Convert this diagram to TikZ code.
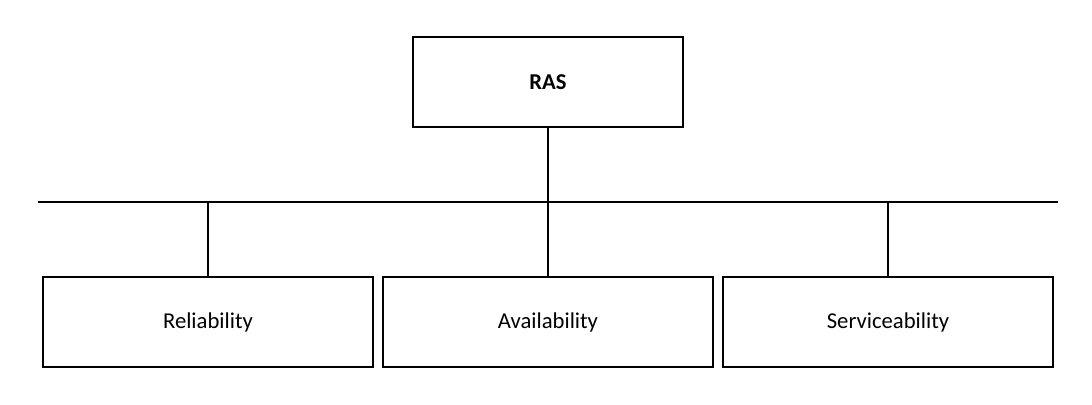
\documentclass[tikz,border=0pt]{standalone}
\usepackage{fontspec}
\setmainfont{Carlito}
\begin{document}
\begin{tikzpicture}[x=0.75pt,y=-0.75pt,line width=1.5pt,
  box/.style={draw,minimum width=202.5pt,minimum height=67.5pt,inner sep=0pt,font=\fontsize{17}{20}\selectfont},
  sbox/.style={box,minimum width=247.5pt}]
\useasboundingbox (0,0) rectangle (1092,404);
\node[box,font=\fontsize{17}{20}\selectfont\bfseries] (ras) at (548,82) {RAS};
\node[sbox] (rel) at (208,322) {Reliability};
\node[sbox] (ava) at (548,322) {Availability};
\node[sbox] (ser) at (888,322) {Serviceability};
\coordinate (l) at (38,202);
\coordinate (r) at (1058,202);
\draw (l) -- (r);
\draw (ras.south) -- (ava.north);
\draw (rel.north) -- (rel.north |- l);
\draw (ser.north) -- (ser.north |- l);
\end{tikzpicture}
\end{document}
